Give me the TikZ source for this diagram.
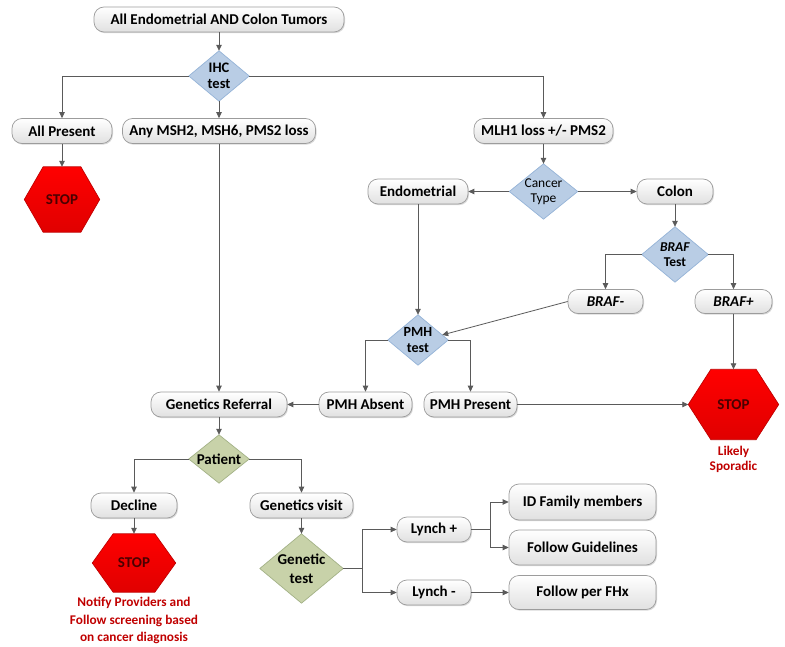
\documentclass[tikz,border=0pt]{standalone}
\usepackage{fontspec}
\setmainfont{Carlito}
\usetikzlibrary{arrows.meta,calc,shadows,positioning}
\pgfdeclarelayer{bg}
\pgfsetlayers{bg,main}
\definecolor{lineg}{HTML}{5A5A5A}
\definecolor{pillb}{HTML}{9C9C9C}
\definecolor{bluef}{HTML}{B9CDE5}
\definecolor{blueb}{HTML}{95B3D7}
\definecolor{greenf}{HTML}{C8D2A9}
\definecolor{greenb}{HTML}{A3B186}
\definecolor{stopb}{HTML}{C00000}
\definecolor{redtxt}{HTML}{C00000}
\definecolor{stoptxt}{HTML}{4A0000}
\tikzset{
  pill/.style={rectangle, rounded corners=10pt, draw=pillb, line width=0.7pt,
    top color=white, bottom color=black!12, minimum height=25pt, inner sep=0pt,
    drop shadow={shadow xshift=1pt, shadow yshift=-1.2pt, opacity=0.25, fill=black!60},
    font=\bfseries\fontsize{15}{17}\selectfont},
  dbox/.style={rectangle, inner sep=0pt, align=center,
    font=\bfseries\fontsize{14.5}{16}\selectfont},
  hexnode/.style={rectangle, inner sep=0pt, text=stoptxt,
    font=\bfseries\fontsize{15}{17}\selectfont},
  redtext/.style={align=center, text=redtxt, inner sep=0pt,
    font=\bfseries\fontsize{13.3}{17.5}\selectfont},
  conn/.style={draw=lineg, line width=0.8pt, -{Triangle[length=6pt,width=5.5pt]}},
  plainconn/.style={draw=lineg, line width=0.8pt},
  bluedia/.style={fill=bluef, draw=blueb, line width=0.7pt},
  greendia/.style={fill=greenf, draw=greenb, line width=0.7pt},
  stophex/.style={top color=red!100, bottom color=red!88!black, draw=stopb, line width=0.7pt}
}
\newcommand\diapath[2]{\path[#2] (#1.north) -- (#1.east) -- (#1.south) -- (#1.west) -- cycle;}
\newcommand\hexpath[1]{\path[stophex] (#1.west) -- ($(#1.north west)!0.25!(#1.north east)$) -- ($(#1.north west)!0.75!(#1.north east)$) -- (#1.east) -- ($(#1.south west)!0.75!(#1.south east)$) -- ($(#1.south west)!0.25!(#1.south east)$) -- cycle;}
\begin{document}
\begin{tikzpicture}[x=1pt,y=-1pt]
\useasboundingbox (0,0) rectangle (785,647);
% nodes
\node[pill, minimum width=250pt] (top) at (219,19.5) {All Endometrial AND Colon Tumors};
\node[dbox, minimum width=60pt, minimum height=50pt] (ihc) at (219,76) {IHC\\test};
\node[pill, minimum width=100pt] (allp) at (62,131) {All Present};
\node[pill, minimum width=193pt] (anym) at (219,131) {Any MSH2, MSH6, PMS2 loss};
\node[hexnode, minimum width=75pt, minimum height=65pt] (stop1) at (62,199.5) {STOP};
\node[pill, minimum width=139pt] (mlh) at (543.5,131) {MLH1 loss +/- PMS2};
\node[dbox, minimum width=68pt, minimum height=55pt, font=\fontsize{13.5}{15}\selectfont] (ct) at (543.5,191.5) {Cancer\\Type};
\node[pill, minimum width=100pt] (endo) at (418,191.5) {Endometrial};
\node[pill, minimum width=76pt] (colon) at (675,191.5) {Colon};
\node[dbox, minimum width=66pt, minimum height=55pt, font=\bfseries\fontsize{13.5}{15}\selectfont] (braf) at (675,254.5) {\textit{BRAF}\\Test};
\node[pill, minimum width=75pt, minimum height=24pt] (brafm) at (605.5,301.5) {\textit{BRAF-}};
\node[pill, minimum width=77pt, minimum height=24pt] (brafp) at (733.5,301.5) {\textit{BRAF+}};
\node[dbox, minimum width=60pt, minimum height=50pt, font=\bfseries\fontsize{14}{15.5}\selectfont] (pmh) at (418,340) {PMH\\test};
\node[pill, minimum width=93pt] (pmha) at (365.5,404.5) {PMH Absent};
\node[pill, minimum width=93pt] (pmhp) at (470.5,404.5) {PMH Present};
\node[hexnode, minimum width=90pt, minimum height=70pt] (stop2) at (733.5,404.5) {STOP};
\node[redtext, font=\bfseries\fontsize{13.3}{15.5}\selectfont] (likely) at (733.5,459.5) {Likely\\Sporadic};
\node[pill, minimum width=136pt] (gref) at (219,404.5) {Genetics Referral};
\node[dbox, minimum width=60pt, minimum height=48pt, font=\bfseries\fontsize{15}{17}\selectfont] (pat) at (219,459) {Patient};
\node[pill, minimum width=86pt] (decl) at (134,505.5) {Decline};
\node[pill, minimum width=103pt] (gvis) at (301.5,505.5) {Genetics visit};
\node[hexnode, minimum width=83pt, minimum height=58pt] (stop3) at (134,563) {STOP};
\node[redtext] (notify) at (134,620.5) {Notify Providers and\\Follow screening based\\on cancer diagnosis};
\node[dbox, minimum width=83pt, minimum height=69pt, font=\bfseries\fontsize{15}{19}\selectfont] (gt) at (301.5,568.5) {Genetic\\test};
\node[pill, minimum width=74pt] (lp) at (434,529.5) {Lynch +};
\node[pill, minimum width=74pt] (lm) at (434,592.5) {Lynch -};
\node[pill, minimum width=147pt, minimum height=36pt] (idf) at (582.5,502) {ID Family members};
\node[pill, minimum width=147pt, minimum height=35pt] (fg) at (582.5,547.5) {Follow Guidelines};
\node[pill, minimum width=147pt, minimum height=34pt] (fph) at (582.5,592.5) {Follow per FHx};
\coordinate (gsplit) at ($(gt.east)+(19,0)$);
\coordinate (lsplit) at ($(lp.east)+(19,0)$);
% background shapes
\begin{pgfonlayer}{bg}
\diapath{ihc}{bluedia}
\diapath{ct}{bluedia}
\diapath{braf}{bluedia}
\diapath{pmh}{bluedia}
\diapath{pat}{greendia}
\diapath{gt}{greendia}
\hexpath{stop1}
\hexpath{stop2}
\hexpath{stop3}
\end{pgfonlayer}
% connectors
\draw[conn] (top.south) -- (ihc.north);
\draw[conn] (ihc.west) -| (allp.north);
\draw[conn] (ihc.south) -- (anym.north);
\draw[conn] (ihc.east) -| (mlh.north);
\draw[conn] (allp.south) -- (stop1.north);
\draw[conn] (mlh.south) -- (ct.north);
\draw[conn] (ct.west) -- (endo.east);
\draw[conn] (ct.east) -- (colon.west);
\draw[conn] (colon.south) -- (braf.north);
\draw[conn] (braf.west) -| (brafm.north);
\draw[conn] (braf.east) -| (brafp.north);
\draw[conn] (endo.south) -- (pmh.north);
\draw[conn] (brafm.west) -- ($(pmh.north)!0.8!(pmh.east)$);
\draw[conn] (pmh.west) -| (pmha.north);
\draw[conn] (pmh.east) -| (pmhp.north);
\draw[conn] (pmhp.east) -- (stop2.west);
\draw[conn] (brafp.south) -- (stop2.north);
\draw[conn] (anym.south) -- (gref.north);
\draw[conn] (pmha.west) -- (gref.east);
\draw[conn] (gref.south) -- (pat.north);
\draw[conn] (pat.west) -| (decl.north);
\draw[conn] (pat.east) -| (gvis.north);
\draw[conn] (decl.south) -- (stop3.north);
\draw[conn] (gvis.south) -- (gt.north);
\draw[plainconn] (gt.east) -- (gsplit);
\draw[conn] (gsplit) |- (lp.west);
\draw[conn] (gsplit) |- (lm.west);
\draw[plainconn] (lp.east) -- (lsplit);
\draw[conn] (lsplit) |- (idf.west);
\draw[conn] (lsplit) |- (fg.west);
\draw[conn] (lm.east) -- (fph.west);
\end{tikzpicture}
\end{document}
